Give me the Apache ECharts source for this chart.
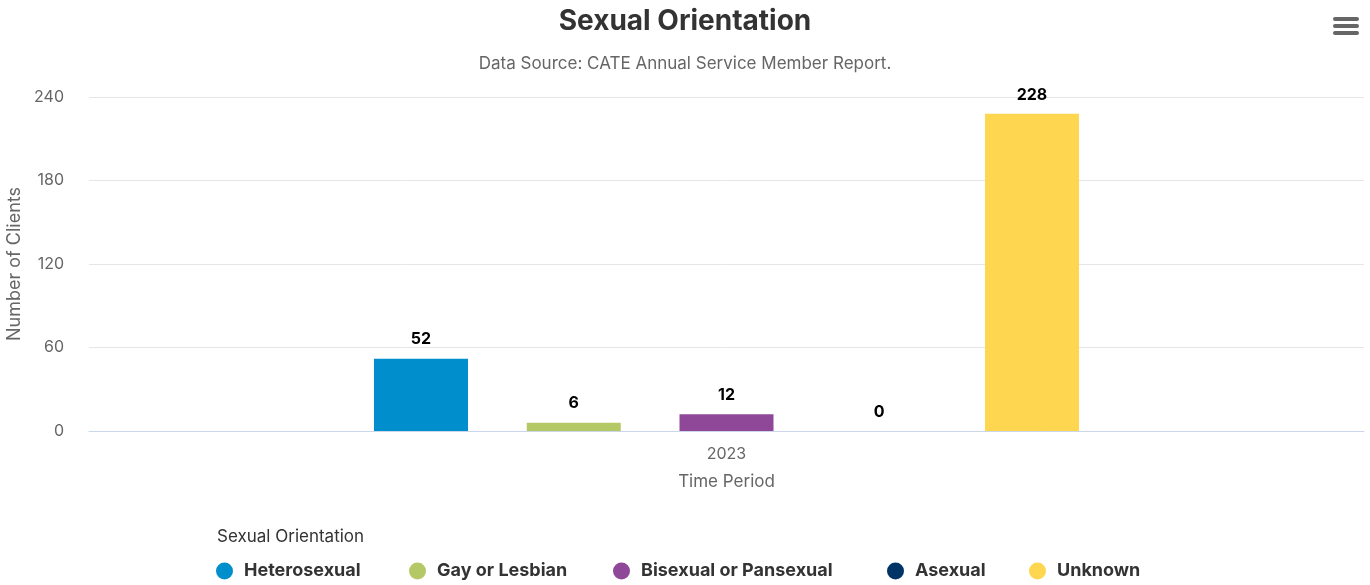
<!DOCTYPE html>
<html>
<head>
<meta charset="utf-8">
<script src="https://cdn.jsdelivr.net/npm/echarts@6/dist/echarts.min.js"></script>
<style>
html,body{margin:0;padding:0;background:#fff;}
#c{width:1370px;height:585px;}
</style>
</head>
<body>
<div id="c"></div>
<script>
const categories = ['2023'];
const seriesNames = ['Heterosexual', 'Gay or Lesbian', 'Bisexual or Pansexual', 'Asexual', 'Unknown'];
const seriesValues = [52, 6, 12, 0, 228];
const seriesColors = ['#008fcc', '#b5c866', '#8f4797', '#003366', '#ffd64f'];
const yTicks = [0, 60, 120, 180, 240];
const legendLeft = [216, 409, 613, 887, 1029];

const FONT = 'Inter, "Noto Sans", sans-serif';
const chart = echarts.init(document.getElementById('c'));
const series = seriesNames.map((n, i) => ({
  name: n,
  type: 'bar',
  data: [seriesValues[i]],
  barWidth: 94,
  barGap: '62.5%',
  itemStyle: { color: seriesColors[i] },
  label: {
    show: true, position: 'top', distance: 11,
    color: '#000', fontWeight: 'bold', fontSize: 16, fontFamily: FONT
  }
}));
const legends = seriesNames.map((n, i) => ({
  data: [n], left: legendLeft[i], top: 562, padding: 0, icon: 'circle',
  itemWidth: 17, itemHeight: 17,
  textStyle: { fontSize: 18, fontWeight: 'bold', color: '#333', fontFamily: FONT,
    padding: [0, 0, 0, 6] }
}));
chart.setOption({
  animation: false,
  title: [
    { text: 'Sexual Orientation', left: 680, textAlign: 'center', top: 3,
      textStyle: { fontSize: 28, fontWeight: 'bold', color: '#333', fontFamily: FONT } },
    { text: 'Data Source: CATE Annual Service Member Report.', left: 680, textAlign: 'center', top: 50,
      textStyle: { fontSize: 17, fontWeight: 'normal', color: '#666', fontFamily: FONT } },
    { text: 'Sexual Orientation', left: 212, top: 523,
      textStyle: { fontSize: 17, fontWeight: 'normal', color: '#333', fontFamily: FONT } }
  ],
  grid: { left: 89, right: 6, top: 97, bottom: 154, outerBoundsMode: 'none', containLabel: false },
  legend: legends,
  xAxis: {
    type: 'category', data: categories,
    name: 'Time Period', nameLocation: 'middle', nameGap: 42,
    nameTextStyle: { fontSize: 17, color: '#666', fontFamily: FONT },
    axisLine: { lineStyle: { color: '#ccd6eb' } },
    axisTick: { show: false },
    axisLabel: { fontSize: 16, color: '#666', margin: 15, fontFamily: FONT }
  },
  yAxis: {
    type: 'value', min: 0, max: 240, interval: 60,
    name: 'Number of Clients', nameLocation: 'middle', nameGap: 62,
    nameTextStyle: { fontSize: 18, color: '#666', fontFamily: FONT },
    splitLine: { lineStyle: { color: '#e6e6e6' } },
    axisLabel: { fontSize: 16, color: '#666', margin: 25, fontFamily: FONT,
      formatter: v => yTicks.includes(v) ? String(v) : '' }
  },
  graphic: [
    { type: 'rect', shape: { x: 1333, y: 17, width: 26, height: 4, r: 2 }, style: { fill: '#666' } },
    { type: 'rect', shape: { x: 1333, y: 24, width: 26, height: 4, r: 2 }, style: { fill: '#666' } },
    { type: 'rect', shape: { x: 1333, y: 31, width: 26, height: 4, r: 2 }, style: { fill: '#666' } }
  ],
  series: series
});
</script>
</body>
</html>
